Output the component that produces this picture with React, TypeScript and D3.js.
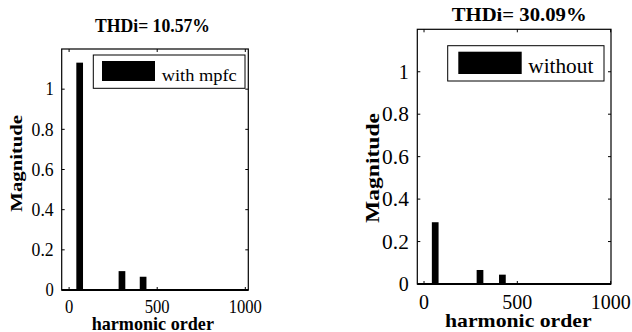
import React from "react";
import * as d3 from "d3";

const harmonics = [60, 300, 420];
const withMpfc = [1.132, 0.094, 0.066];
const withoutMpfc = [0.291, 0.066, 0.044];
const yTicks = [0, 0.2, 0.4, 0.6, 0.8, 1];
const xTicks = [0, 500, 1000];
const titles = ["THDi= 10.57%", "THDi= 30.09%"];
const legends = ["with mpfc", "without"];
const xLabel = "harmonic order";
const yLabel = "Magnitude";

const FONT = "Liberation Serif, 'Times New Roman', DejaVu Serif, serif";
const CAP = 0.7;

type TSpec = { x: number; y: number; w: number; h: number };

type PanelCfg = {
  left: number; right: number; top: number; bottom: number;
  xDom: [number, number];
  title: TSpec; xLab: TSpec; yLab: TSpec; legText: TSpec;
  digitW: number; dotW: number; tickH: number; xTickBase: number; yTickGap: number;
  legend: { x0: number; x1: number; y0: number; y1: number; px0: number; px1: number; py0: number; py1: number };
  barW: number;
};

const panels: PanelCfg[] = [
  {
    left: 61.7, right: 248.3, top: 49, bottom: 290,
    xDom: [-42, 1017],
    title: { x: 152.5, y: 32, w: 115, h: 13 },
    xLab: { x: 152.8, y: 329.5, w: 122.3, h: 12.5 },
    yLab: { x: 21.5, y: 163.3, w: 96.7, h: 11 },
    legText: { x: 161.7, y: 81, w: 75, h: 12.2 },
    digitW: 8.3, dotW: 5.5, tickH: 12.6, xTickBase: 312.5, yTickGap: 8,
    legend: { x0: 93.3, x1: 245, y0: 55, y1: 88.3, px0: 102, px1: 155, py0: 61, py1: 81 },
    barW: 38,
  },
  {
    left: 417.3, right: 611, top: 29.3, bottom: 284,
    xDom: [-36, 1002],
    title: { x: 519.2, y: 21, w: 135, h: 12.7 },
    xLab: { x: 518.3, y: 327, w: 146.7, h: 13.3 },
    yLab: { x: 379, y: 168, w: 110, h: 13 },
    legText: { x: 528.3, y: 73, w: 65, h: 14.5 },
    digitW: 10, dotW: 6.7, tickH: 14, xTickBase: 308.8, yTickGap: 8.5,
    legend: { x0: 447.7, x1: 604, y0: 45.7, y1: 81, px0: 458.3, px1: 521.7, py0: 51.7, py1: 74 },
    barW: 36,
  },
];

const series = [withMpfc, withoutMpfc];

function Txt({ s, text, anchor = "middle", bold = false, rotate = false }:
  { s: TSpec; text: string; anchor?: "start" | "middle" | "end"; bold?: boolean; rotate?: boolean }) {
  return (
    <text
      transform={`translate(${s.x},${s.y})${rotate ? " rotate(-90)" : ""}`}
      textAnchor={anchor}
      textLength={s.w}
      lengthAdjust="spacingAndGlyphs"
      style={{ fontFamily: FONT, fontSize: s.h / CAP, fontWeight: bold ? "bold" : "normal" }}
    >
      {text}
    </text>
  );
}

function labelWidth(label: string, cfg: PanelCfg) {
  let w = 0;
  for (const ch of label) w += ch === "." ? cfg.dotW : cfg.digitW;
  return w;
}

function Panel({ cfg, values, title, legend }: { cfg: PanelCfg; values: number[]; title: string; legend: string }) {
  const x = d3.scaleLinear().domain(cfg.xDom).range([cfg.left, cfg.right]);
  const y = d3.scaleLinear().domain([0, 1.2]).range([cfg.bottom, cfg.top]);
  const tl = 3;
  const L = cfg.legend;
  return (
    <g>
      {harmonics.map((h, i) => (
        <rect key={i} x={x(h - cfg.barW / 2)} width={x(h + cfg.barW / 2) - x(h - cfg.barW / 2)}
          y={y(values[i])} height={y(0) - y(values[i])} fill="#000" />
      ))}
      <rect x={cfg.left} y={cfg.top} width={cfg.right - cfg.left} height={cfg.bottom - cfg.top}
        fill="none" stroke="#000" strokeWidth={1.2} />
      <line x1={cfg.left} x2={cfg.right} y1={cfg.bottom} y2={cfg.bottom} stroke="#000" strokeWidth={2} />
      {xTicks.map((t) => {
        const lab = String(t);
        return (
          <g key={t}>
            <line x1={x(t)} x2={x(t)} y1={cfg.bottom} y2={cfg.bottom - tl} stroke="#000" />
            <line x1={x(t)} x2={x(t)} y1={cfg.top} y2={cfg.top + tl} stroke="#000" />
            <Txt s={{ x: x(t), y: cfg.xTickBase, w: labelWidth(lab, cfg), h: cfg.tickH }} text={lab} />
          </g>
        );
      })}
      {yTicks.map((t) => {
        const lab = String(t);
        return (
          <g key={t}>
            <line x1={cfg.left} x2={cfg.left + tl} y1={y(t)} y2={y(t)} stroke="#000" />
            <line x1={cfg.right} x2={cfg.right - tl} y1={y(t)} y2={y(t)} stroke="#000" />
            <Txt s={{ x: cfg.left - cfg.yTickGap, y: y(t) + cfg.tickH / 2, w: labelWidth(lab, cfg), h: cfg.tickH }}
              text={lab} anchor="end" />
          </g>
        );
      })}
      <Txt s={cfg.title} text={title} bold />
      <Txt s={cfg.xLab} text={xLabel} bold />
      <Txt s={cfg.yLab} text={yLabel} bold rotate />
      <rect x={L.x0} y={L.y0} width={L.x1 - L.x0} height={L.y1 - L.y0} fill="#fff" stroke="#000" strokeWidth={1} />
      <rect x={L.px0} y={L.py0} width={L.px1 - L.px0} height={L.py1 - L.py0} fill="#000" />
      <Txt s={cfg.legText} text={legend} anchor="start" />
    </g>
  );
}

export default function App() {
  return (
    <svg width={632} height={332} style={{ position: "absolute", left: 0, top: 0, background: "#fff" }}>
      <rect width={632} height={332} fill="#fff" />
      {panels.map((p, i) => (
        <Panel key={i} cfg={p} values={series[i]} title={titles[i]} legend={legends[i]} />
      ))}
    </svg>
  );
}
